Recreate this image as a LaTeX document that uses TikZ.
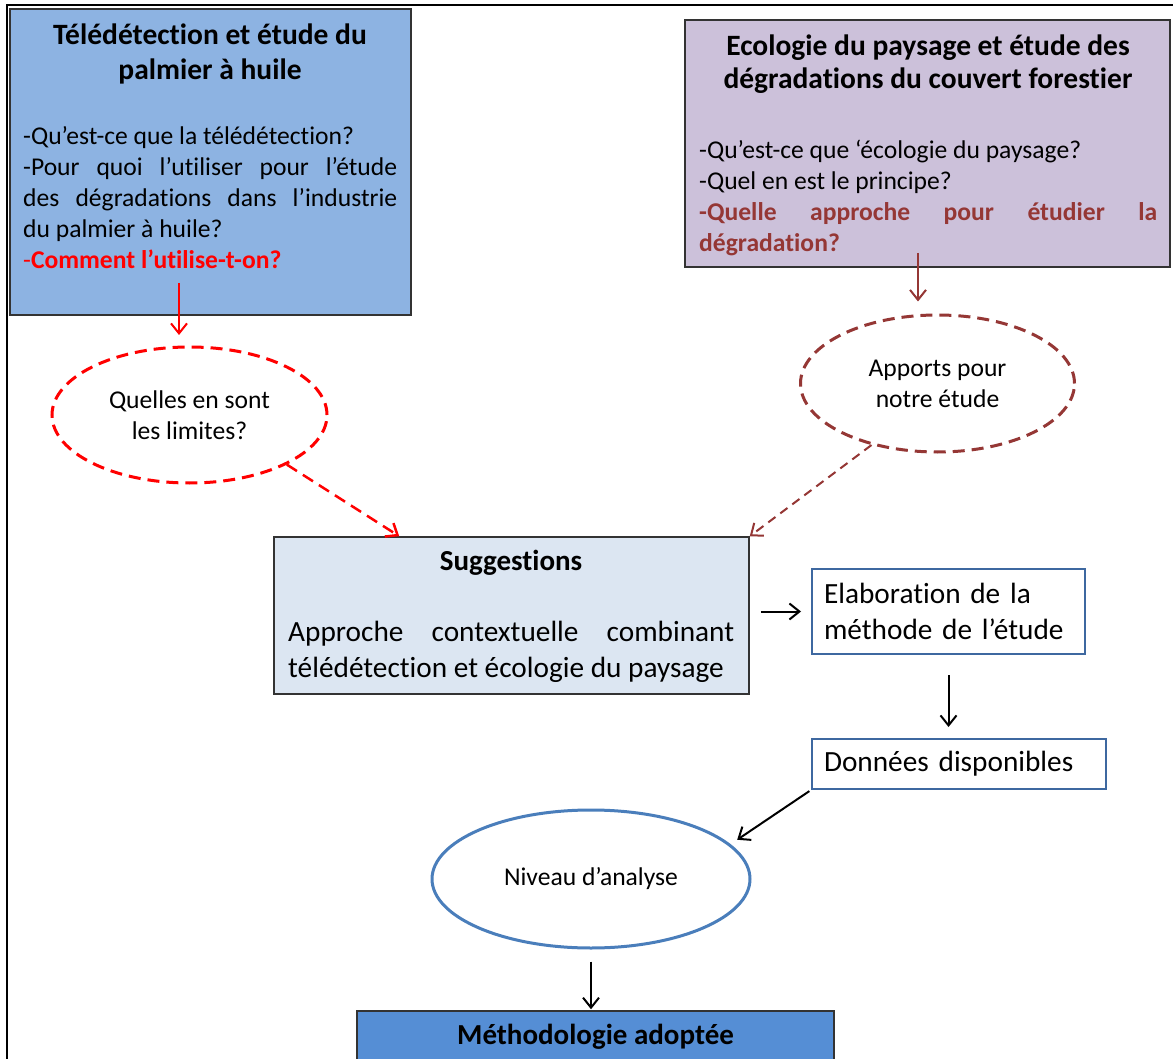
\documentclass[tikz,border=0pt]{standalone}
\usepackage{fontspec}
\setmainfont{Carlito}[Ligatures={NoCommon,TeX}]
\usepackage{xcolor}
\usetikzlibrary{positioning,shapes.geometric,arrows.meta}

\definecolor{bleuclair}{RGB}{141,179,226}
\definecolor{mauve}{RGB}{204,193,218}
\definecolor{bleupale}{RGB}{220,230,242}
\definecolor{bleuvif}{RGB}{85,142,213}
\definecolor{bleucadre}{RGB}{62,104,160}
\definecolor{bleuellipse}{RGB}{74,126,187}
\definecolor{brique}{RGB}{149,55,53}

\newcommand{\titre}{\fontsize{29.5}{35}\selectfont\bfseries}
\newcommand{\corps}{\fontsize{25.6}{31}\selectfont}
\newcommand{\grand}{\fontsize{29.3}{36}\selectfont}
% ligne justifiee sur une largeur donnee
\newcommand{\ligne}[2]{\makebox[#1][s]{#2}}

\begin{document}
\begin{tikzpicture}[x=1pt,y=-1pt,
	boite/.style={draw=black!80, line width=1.5pt, inner sep=0pt},
	texte/.style={inner sep=0pt, align=left},
	cadre/.style={draw=bleucadre, line width=2pt, fill=white, inner xsep=12pt, inner ysep=0pt, text width=#1, align=left, font=\grand},
	bulle/.style={ellipse, line width=3pt, dash pattern=on 12pt off 7pt, align=center, font=\corps},
	fleche/.style={-{Straight Barb[length=10pt,width=16pt]}, line width=2pt},
]
	\useasboundingbox (0,0) rectangle (1173,1059);
	\fill[white] (0,0) rectangle (1173,1059);
	\clip (0,0) rectangle (1173,1059);
	\draw[line width=2pt] (1173,5) -- (7,5) -- (7,1059);

	% teledetection
	\node[boite, fill=bleuclair, minimum width=401pt, minimum height=306pt] (tele) at (210.5,162) {};
	\node[texte, font=\titre, align=center] (teletitre) at (210,54) {Télédétection et étude du\\palmier à huile};
	\node[texte, font=\corps, anchor=west] (teletexte) at (23,198) {-Qu’est-ce que la télédétection?\\
		\ligne{374pt}{-Pour quoi l’utiliser pour l’étude}\\
		\ligne{374pt}{des dégradations dans l’industrie}\\
		du palmier à huile?\\
		{\color{red}-\textbf{Comment l’utilise-t-on?}}};

	% ecologie du paysage
	\node[boite, fill=mauve, minimum width=485pt, minimum height=247pt] (eco) at (927.5,143.5) {};
	\node[texte, font=\fontsize{29.5}{33}\selectfont\bfseries, align=center] (ecotitre) at (928,64.5) {Ecologie du paysage et étude des\\dégradations du couvert forestier};
	\node[texte, font=\corps, anchor=west] (ecotexte) at (699,198) {-Qu’est-ce que ‘écologie du paysage?\\
		-Quel en est le principe?\\
		{\color{brique}\bfseries\ligne{458pt}{-Quelle approche pour étudier la}}\\
		{\color{brique}\bfseries dégradation?}};

	% bulles
	\node[bulle, draw=red, minimum width=275pt, minimum height=136pt] (lim) at (189.5,415) {Quelles en sont\\les limites?};
	\node[bulle, draw=brique, minimum width=274pt, minimum height=137pt] (app) at (937.5,383.5) {Apports pour\\notre étude};

	% suggestions
	\node[boite, fill=bleupale, minimum width=475pt, minimum height=157pt] (sugg) at (511.5,615.5) {};
	\node[texte, font=\fontsize{29}{34}\selectfont\bfseries] (suggtitre) at (511,563) {Suggestions};
	\node[texte, font=\grand, anchor=west] (suggtexte) at (288,652) {\ligne{446pt}{Approche contextuelle combinant}\\télédétection et écologie du paysage};

	\node[cadre=249pt, minimum height=85pt] (elab) at (948.5,611.5) {Elaboration de la\\méthode de l’étude};
	\node[cadre=270pt, minimum height=50pt, anchor=north west] (donnees) at ([yshift=-83pt]elab.south west) {Données disponibles};

	\node[ellipse, draw=bleuellipse, line width=3pt, fill=white, minimum width=318pt, minimum height=138pt, font=\corps] (niveau) at (591,879) {Niveau d’analyse};
	\node[boite, fill=bleuvif, minimum width=477pt, minimum height=52pt, font=\fontsize{29}{35}\selectfont\bfseries] (metho) at (595.5,1037) {Méthodologie adoptée};

	% fleches
	\coordinate (d1) at (179,283);
	\coordinate (d2) at (179,335);
	\draw[fleche, red] (d1) -- (d2);
	\draw[fleche, red, line width=2.5pt, dash pattern=on 12pt off 7pt] (lim.-27) -- ([xshift=126pt]sugg.north west);
	\coordinate (e1) at (918,253);
	\draw[fleche, brique, shorten >=12pt] (e1) -- (e1 |- app.north);
	\draw[fleche, brique, dash pattern=on 9pt off 6pt] (app.-137) -- (sugg.north east);
	\draw[fleche, shorten <=11pt, shorten >=10pt] (elab.west -| sugg.east) -- (elab.west);
	\draw[fleche, shorten <=20pt, shorten >=11pt] (elab.south) -- (elab.south |- donnees.north);
	\draw[fleche, shorten <=2pt, shorten >=8pt] (donnees.south west) -- (niveau.14);
	\draw[fleche, shorten <=12pt, shorten >=1pt] (niveau.south) -- (niveau.south |- metho.north);
\end{tikzpicture}
\end{document}
